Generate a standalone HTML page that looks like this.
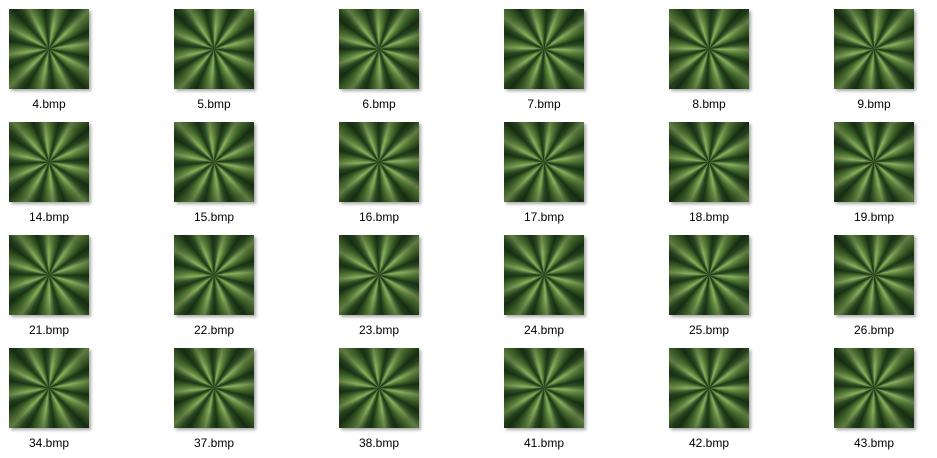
<!DOCTYPE html>
<html><head><meta charset="utf-8"><style>
body{margin:0;width:937px;height:458px;background:#fff;overflow:hidden;font-family:"Liberation Sans",sans-serif;position:relative}
.item{position:absolute;width:165px;height:113px}
.thumb{position:absolute;left:9px;top:9px;width:80px;height:80px;box-shadow:2px 2px 3px rgba(0,0,0,0.35);
background:
radial-gradient(circle at 50% 50%, rgba(20,40,15,0.5) 0, rgba(20,40,15,0) 18%),
repeating-conic-gradient(from var(--r) at 50% 50%, #8db060 0deg, #4f7a33 10deg, #1d3517 20deg, #2f5426 27deg, #8db060 36deg),
#2d4a22}
.thumb::after{content:"";position:absolute;inset:0;background:radial-gradient(circle at 50% 50%,rgba(0,0,0,0) 40%,rgba(10,25,8,0.35) 75%)}
.label{position:absolute;left:0;width:98px;top:97px;text-align:center;font-size:12px;color:#000}
</style></head><body>
<script>
const names=[4,5,6,7,8,9,14,15,16,17,18,19,21,22,23,24,25,26,34,37,38,41,42,43];
const rots=[10,40,70,20,55,5,30,65,15,45,25,60,35,50,12,68,22,42,8,48,28,58,18,38];
names.forEach((n,i)=>{
 const it=document.createElement('div');
 it.className='item';
 it.style.left=(i%6)*165+'px';
 it.style.top=Math.floor(i/6)*113+'px';
 
 
 const t=document.createElement('div');
 t.className='thumb';
 t.style.setProperty('--r',rots[i]+'deg');
 
 
 const l=document.createElement('div');
 l.className='label';
 l.textContent=n+'.bmp';
 
 
 it.appendChild(t);it.appendChild(l);
 document.body.appendChild(it);
});
</script>
</body></html>
